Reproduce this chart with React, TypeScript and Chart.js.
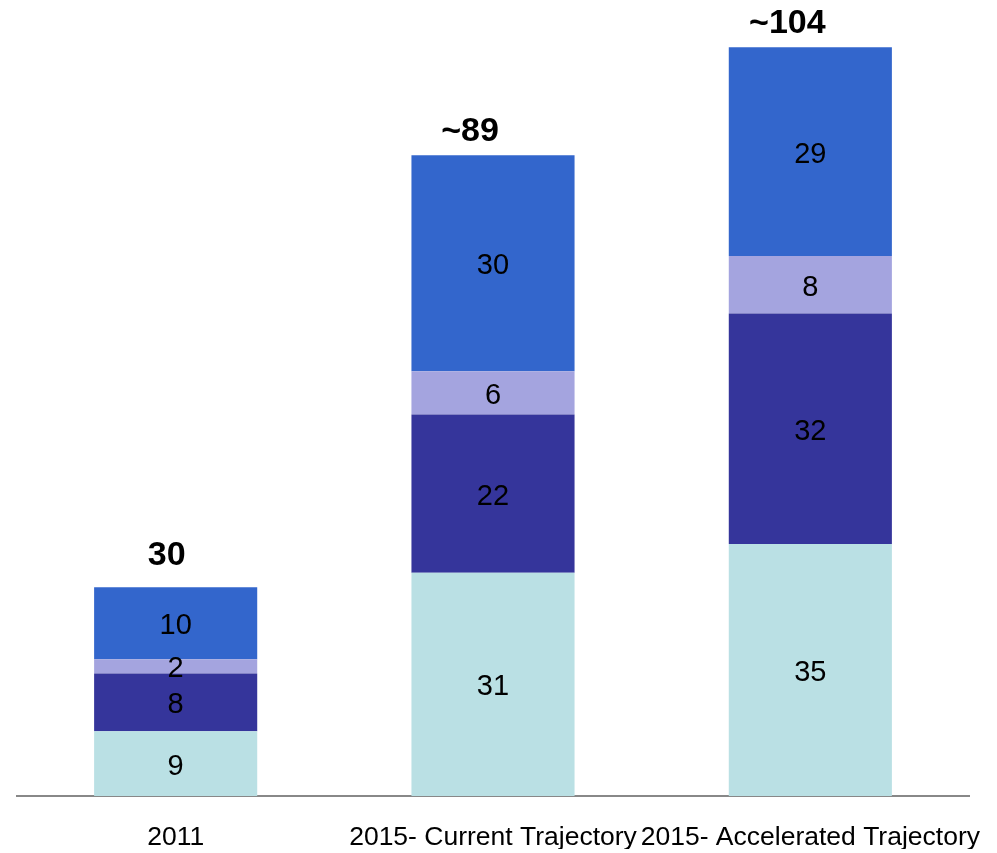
import React, { useEffect, useRef } from "react";
import { Chart, registerables } from "chart.js";

Chart.register(...registerables);

const categories = ["2011", "2015- Current Trajectory", "2015- Accelerated Trajectory"];
const seriesA = [9, 31, 35];
const seriesB = [8, 22, 32];
const seriesC = [2, 6, 8];
const seriesD = [10, 30, 29];
const totals = [30, 89, 104];
const totalLabels = ["30", "~89", "~104"];
const colors = ["#BAE0E4", "#35359B", "#A4A4DF", "#3366CC"];

const FONT = "'Liberation Sans', Arial, Helvetica, sans-serif";

const labelPlugin = {
  id: "segLabels",
  afterDatasetsDraw(chart: any) {
    const ctx = chart.ctx;
    ctx.save();
    ctx.textAlign = "center";
    ctx.textBaseline = "middle";
    ctx.fillStyle = "#000";
    ctx.font = `29px ${FONT}`;
    chart.data.datasets.forEach((ds: any, di: number) => {
      const meta = chart.getDatasetMeta(di);
      meta.data.forEach((el: any, i: number) => {
        const v = ds.data[i];
        const yMid = (el.y + el.base) / 2;
        ctx.fillText(String(v), el.x, yMid + 3);
      });
    });
    const yScale = chart.scales.y;
    const meta0 = chart.getDatasetMeta(0);
    ctx.font = `bold 34px ${FONT}`;
    totals.forEach((t, i) => {
      const lbl = totalLabels[i];
      const x = meta0.data[i].x - 9 - (lbl.startsWith("~") ? 14 : 0);
      const y = yScale.getPixelForValue(t) - 24;
      ctx.fillText(lbl, x, y);
    });
    ctx.restore();
  },
};

export default function App() {
  const ref = useRef<HTMLCanvasElement>(null);
  useEffect(() => {
    if (!ref.current) return;
    const data = [seriesA, seriesB, seriesC, seriesD];
    const chart = new Chart(ref.current, {
      type: "bar",
      data: {
        labels: categories,
        datasets: data.map((d, i) => ({
          label: "s" + i,
          data: d,
          backgroundColor: colors[i],
          borderWidth: 0,
          categoryPercentage: 1,
          barPercentage: 0.514,
        })),
      },
      options: {
        animation: false,
        responsive: false,
        maintainAspectRatio: false,
        layout: { padding: { left: 17, right: 28, top: 4, bottom: 4 } },
        plugins: { legend: { display: false }, tooltip: { enabled: false } },
        scales: {
          x: {
            stacked: true,
            grid: { display: false, drawTicks: false },
            border: { display: true, color: "#888888", width: 2 },
            ticks: {
              autoSkip: false,
              maxRotation: 0,
              minRotation: 0,
              padding: 26,
              color: "#000",
              font: { size: 26.5, family: FONT },
            },
            afterFit(scale: any) {
              scale.paddingLeft = 0;
              scale.paddingRight = 0;
              scale.height = 53;
            },
          },
          y: {
            stacked: true,
            display: false,
            min: 0,
            max: 110,
          },
        },
      },
      plugins: [labelPlugin],
    });
    return () => chart.destroy();
  }, []);
  return (
    <div style={{ position: "fixed", left: 0, top: 0, width: 997, height: 853, background: "#fff" }}>
      <canvas ref={ref} width={997} height={853} style={{ width: 997, height: 853 }} />
    </div>
  );
}
